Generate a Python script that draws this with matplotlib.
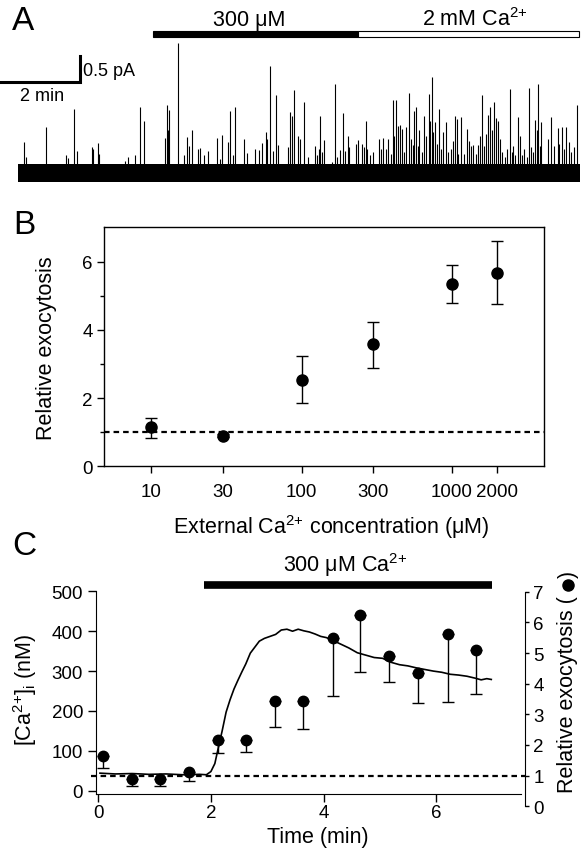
import matplotlib
matplotlib.use("Agg")
import matplotlib.pyplot as plt
from matplotlib.patches import Rectangle
from matplotlib.ticker import NullLocator
import numpy as np

plt.rcParams['font.family'] = ['Liberation Sans', 'DejaVu Sans']
plt.rcParams['mathtext.fontset'] = 'custom'
plt.rcParams['mathtext.rm'] = 'Liberation Sans'
plt.rcParams['mathtext.it'] = 'Liberation Sans:italic'
plt.rcParams['mathtext.default'] = 'regular'

# ---- panel A: amperometric trace (time in min, amplitude in pA) ----
trace_end = 14.23
solution_times = [3.43, 8.61, 14.21]   # 300 uM starts, 2 mM starts, end
spike_t = [0.16, 0.20, 0.71, 1.21, 1.28, 1.43, 1.49, 1.89, 1.91, 2.04, 2.06, 2.71, 2.80, 2.97,
           3.09, 3.20, 3.73, 3.77, 3.79, 3.83, 4.06, 4.21, 4.28, 4.33, 4.42, 4.57, 4.61, 4.71,
           4.81, 5.04, 5.12, 5.18, 5.31, 5.38, 5.44, 5.49, 5.73, 5.81, 6.01, 6.11, 6.19, 6.27,
           6.30, 6.38, 6.47, 6.53, 6.59, 6.83, 6.89, 6.95, 6.99, 7.08, 7.13, 7.25, 7.35, 7.51,
           7.57, 7.63, 7.65, 7.71, 7.76, 7.95, 8.04, 8.07, 8.16, 8.24, 8.28, 8.37, 8.39, 8.55,
           8.60, 8.71, 8.76, 8.82, 8.85, 8.92, 9.00, 9.13, 9.19, 9.24, 9.32, 9.38, 9.44, 9.49,
           9.53, 9.57, 9.62, 9.68, 9.73, 9.78, 9.83, 9.90, 9.95, 10.00, 10.04, 10.08, 10.12,
           10.16, 10.24, 10.29, 10.33, 10.40, 10.44, 10.48, 10.52, 10.56, 10.62, 10.66, 10.71,
           10.77, 10.83, 10.90, 10.96, 11.01, 11.07, 11.11, 11.15, 11.22, 11.30, 11.36, 11.42,
           11.47, 11.53, 11.60, 11.66, 11.70, 11.76, 11.80, 11.85, 11.91, 11.95, 12.01, 12.06,
           12.11, 12.15, 12.21, 12.25, 12.32, 12.38, 12.45, 12.50, 12.54, 12.59, 12.66, 12.70,
           12.76, 12.80, 12.88, 12.94, 12.98, 13.04, 13.09, 13.14, 13.17, 13.22, 13.24, 13.43,
           13.50, 13.58, 13.67, 13.71, 13.78, 13.83, 13.88, 13.95, 14.00, 14.09, 14.15]
spike_a = [0.57, 0.29, 0.85, 0.32, 0.27, 1.19, 0.41, 0.47, 0.44, 0.55, 0.35, 0.22, 0.29, 0.33,
           1.23, 0.97, 0.65, 1.27, 0.79, 1.17, 2.43, 0.32, 0.66, 0.49, 0.80, 0.44, 0.46, 0.33,
           0.40, 0.65, 0.25, 0.70, 0.58, 1.16, 0.32, 1.23, 0.63, 0.36, 0.45, 0.42, 0.55, 0.77,
           0.63, 2.01, 0.41, 1.46, 0.52, 0.47, 1.13, 1.07, 1.56, 0.69, 0.63, 1.32, 0.30, 0.50,
           0.32, 0.44, 1.07, 0.38, 0.61, 0.19, 1.66, 0.29, 0.43, 1.11, 0.41, 0.69, 0.47, 0.54,
           0.61, 0.54, 0.47, 0.97, 0.44, 0.33, 0.39, 0.63, 0.44, 0.64, 0.44, 0.63, 0.35, 1.36,
           0.69, 1.36, 0.88, 0.89, 0.82, 0.38, 0.85, 1.49, 0.63, 0.52, 1.16, 1.24, 0.50,
           0.79, 0.38, 1.06, 0.69, 1.48, 0.97, 1.79, 0.76, 0.94, 0.54, 1.19, 0.44,
           0.77, 0.95, 0.38, 0.45, 0.60, 1.06, 1.01, 0.35, 1.04, 0.35, 0.82, 0.60,
           0.50, 0.52, 0.35, 0.52, 0.69, 1.46, 0.50, 0.72, 1.08, 1.23, 0.79, 1.32,
           1.02, 0.97, 0.63, 0.38, 0.29, 0.44, 1.57, 0.38, 0.50, 0.32, 1.04, 0.68,
           0.32, 0.44, 0.29, 1.58, 0.47, 0.39, 0.99, 0.79, 1.66, 0.50, 0.95, 0.63,
           1.04, 0.50, 0.83, 0.54, 0.85, 0.44, 0.85, 0.57, 0.38, 0.47, 1.26]

# ---- panel B: dose response ----
conc = np.array([10, 30, 100, 300, 1000, 2000])
rel_exo = np.array([1.15, 0.90, 2.54, 3.57, 5.34, 5.67])
rel_lo = np.array([0.84, 0.86, 1.85, 2.89, 4.78, 4.75])
rel_hi = np.array([1.41, 0.94, 3.22, 4.24, 5.89, 6.60])
conc_labels = ['10', '30', '100', '300', '1000', '2000']

# ---- panel C: [Ca2+]i trace and exocytosis ----
ca_t = [0.03, 0.3, 0.6, 0.9, 1.2, 1.5, 1.8, 1.92, 2.0, 2.07, 2.14, 2.2, 2.27, 2.34, 2.41, 2.48,
        2.55, 2.62, 2.7, 2.78, 2.86, 2.95, 3.05, 3.15, 3.25, 3.35, 3.45, 3.55, 3.65, 3.75, 3.85,
        3.95, 4.05, 4.15, 4.3, 4.45, 4.6, 4.75, 4.9, 5.05, 5.2, 5.35, 5.5, 5.65, 5.8, 5.95, 6.1,
        6.25, 6.4, 6.55, 6.7, 6.8, 6.9, 6.98]
ca_nm = [44, 42, 43, 41, 42, 40, 41, 40, 48, 68, 113, 150, 197, 228, 255, 277,
         298, 318, 345, 360, 375, 382, 387, 392, 403, 405, 400, 405, 401, 398, 393,
         387, 384, 378, 368, 358, 346, 340, 334, 332, 322, 316, 313, 308, 304, 300, 297,
         292, 290, 287, 282, 278, 281, 279]
exo_t = [0.08, 0.59, 1.09, 1.61, 2.12, 2.62, 3.13, 3.64, 4.17, 4.65, 5.16, 5.68, 6.21, 6.70]
exo_rel = [1.65, 0.89, 0.89, 1.13, 2.17, 2.17, 3.44, 3.42, 5.49, 6.25, 4.91, 4.35, 5.62, 5.11]
exo_lo = [1.24, 0.67, 0.67, 0.83, 1.73, 1.76, 2.58, 2.52, 3.61, 4.37, 4.06, 3.37, 3.39, 3.66]
perfusion_c = (1.88, 7.0)

W, H = 582, 853
fig = plt.figure(figsize=(W / 100, H / 100), dpi=100)

TICK = 13.5
LAB = 15.5
LET = 24
CA = 'Ca$^{2{+}}$'


def box(x0, y0, x1, y1):
    return [x0 / W, 1 - y1 / H, (x1 - x0) / W, (y1 - y0) / H]


def ftext(x, y, s, **kw):
    return fig.text(x / W, 1 - y / H, s, **kw)


# panel A
axa = fig.add_axes(box(0, 0, 582, 200))
axa.set_xlim(-0.4506, 14.28)
axa.set_ylim(-0.498, 3.261)
axa.axis('off')
axa.fill_between([0, trace_end], -0.18, 0.16, color='black', lw=0)
axa.vlines(spike_t, 0, spike_a, color='black', lw=0.8)
axa.plot([-0.425, 1.575, 1.575], [1.695, 1.695, 2.195], color='black', lw=2.2,
         solid_joinstyle='miter')
axa.text(1.65, 1.91, '0.5 pA', fontsize=13, va='center', ha='left')
axa.text(0.605, 1.45, '2 min', fontsize=13, va='center', ha='center')
s0, s1, s2 = solution_times
axa.add_patch(Rectangle((s0, 2.553), s1 - s0, 0.112, facecolor='black', edgecolor='black', lw=0.8))
axa.add_patch(Rectangle((s1, 2.553), s2 - s1, 0.112, facecolor='white', edgecolor='black', lw=0.8))
axa.text(5.85, 2.885, '300 \u03bcM', fontsize=LAB, ha='center', va='center')
axa.text(11.57, 2.885, '2 mM ' + CA, fontsize=LAB, ha='center', va='center')
ftext(23, 22, 'A', fontsize=LET, ha='center', va='center')

# panel B
axb = fig.add_axes(box(104, 227.7, 544.3, 467.3))
axb.set_xscale('log')
axb.axhline(1, color='black', lw=1.6, ls=(0, (2.5, 1.8)))
axb.errorbar(conc, rel_exo, yerr=[rel_exo - rel_lo, rel_hi - rel_exo], fmt='o', color='black',
             ms=8, capsize=4.5, elinewidth=1, capthick=1)
axb.set_xlim(4.87, 4103)
axb.set_ylim(0, 7.02)
axb.set_xticks(conc)
axb.set_xticklabels(conc_labels)
axb.xaxis.set_minor_locator(NullLocator())
axb.set_yticks([0, 2, 4, 6])
axb.set_yticks([1, 3, 5], minor=True)
axb.tick_params(which='major', direction='out', length=5, width=1, labelsize=TICK, pad=3)
axb.tick_params(axis='x', pad=7)
axb.tick_params(which='minor', direction='out', length=3, width=1)
for sp in axb.spines.values():
    sp.set_linewidth(1)
ftext(24, 226, 'B', fontsize=LET, ha='center', va='center')
ftext(47, 348, 'Relative exocytosis', fontsize=LAB, rotation=90, ha='center', va='center')
ftext(331, 527, 'External ' + CA + ' concentration (\u03bcM)', fontsize=LAB, ha='center',
      va='center')

# panel C, left axis
axc = fig.add_axes(box(95.7, 592.3, 521.3, 795))
axc.plot(ca_t, ca_nm, color='black', lw=1.2)
axc.set_xlim(-0.046, 7.513)
axc.set_ylim(-8.3, 500.1)
axc.set_xticks([0, 2, 4, 6])
axc.set_yticks([0, 100, 200, 300, 400, 500])
axc.spines['top'].set_visible(False)
axc.spines['right'].set_visible(False)
axc.spines['left'].set_bounds(-8.3, 500)
axc.tick_params(direction='out', length=6, width=1, labelsize=TICK, pad=3)
axc.tick_params(axis='x', pad=1.5)
axc.plot(perfusion_c, [517, 517], color='black', lw=5.5, solid_capstyle='butt', clip_on=False)
axc.text(4.38, 568.6, '300 \u03bcM ' + CA, fontsize=LAB, ha='center', va='center')
axc.patch.set_alpha(0)

# panel C, right axis
axr = fig.add_axes(box(95.7, 592.7, 525, 807.3))
axr.set_xlim(-0.046, 7.579)
axr.set_ylim(0, 7)
axr.patch.set_alpha(0)
for side in ['top', 'left', 'bottom']:
    axr.spines[side].set_visible(False)
axr.set_xticks([])
axr.yaxis.tick_right()
axr.set_yticks(range(8))
axr.tick_params(direction='out', length=3, width=1, labelsize=TICK, pad=3)
axr.plot([-0.135, 7.579], [1, 1], color='black', lw=1.6, ls=(0, (2.5, 1.8)), clip_on=False)
exo_rel = np.array(exo_rel)
axr.errorbar(exo_t, exo_rel, yerr=[exo_rel - np.array(exo_lo), np.zeros(len(exo_rel))],
             fmt='o', color='black', ms=7.5, capsize=4.3, elinewidth=1, capthick=1)

ftext(24, 547, 'C', fontsize=LET, ha='center', va='center')
ftext(25, 690, '[' + CA + ']$_{i}$ (nM)', fontsize=LAB, rotation=90, ha='center', va='center')
ftext(318, 838, 'Time (min)', fontsize=LAB, ha='center', va='center')

# right label: text, filled circle symbol, closing bracket
lab_x = 568
part = ftext(lab_x, 793, 'Relative exocytosis (', fontsize=LAB, rotation=90,
             rotation_mode='anchor', ha='left', va='center')
renderer = fig.canvas.get_renderer()
top_px = H - part.get_window_extent(renderer).y1   # top end of the text, from top
dot_y = top_px - 10
fig.lines.append(plt.Line2D([lab_x / W], [1 - dot_y / H], marker='o', ms=8, color='black',
                            transform=fig.transFigure))
ftext(lab_x, dot_y - 8, ')', fontsize=LAB, rotation=90, rotation_mode='anchor', ha='left',
      va='center')

fig.savefig('out.png', dpi=100)
